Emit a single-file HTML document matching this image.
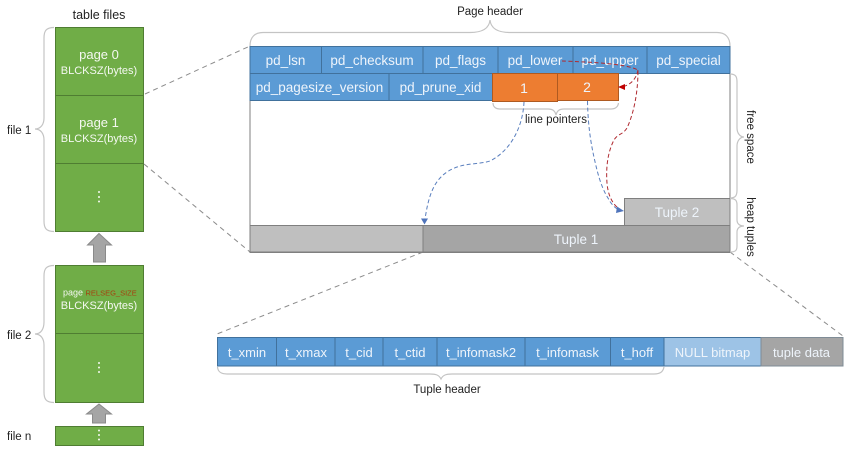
<!DOCTYPE html>
<html><head><meta charset="utf-8"><style>
html,body{margin:0;padding:0;background:#fff}
svg{display:block;font-family:"Liberation Sans",sans-serif;filter:blur(.3px)}
.w{fill:#f4f8f1;text-anchor:middle}
.b{fill:#eef4fb;text-anchor:middle;font-size:13.5px}
.t{fill:#eef4fb;text-anchor:middle;font-size:13px}
.k{fill:#222;font-size:11.5px;text-anchor:middle}
.br{fill:none;stroke:#c4c4c4;stroke-width:1.2}
.dg{fill:none;stroke:#8c8c8c;stroke-width:1;stroke-dasharray:5 4}
</style></head><body>
<svg width="844" height="453" viewBox="0 0 844 453" xmlns="http://www.w3.org/2000/svg">
<!-- left column -->
<text x="99" y="19" text-anchor="middle" font-size="12.5" fill="#222">table files</text>
<g fill="#70ad47" stroke="#4f7d32" stroke-width="1">
<rect x="55.5" y="27.5" width="88" height="68"/>
<rect x="55.5" y="95.5" width="88" height="68"/>
<rect x="55.5" y="163.5" width="88" height="68"/>
<rect x="55.5" y="265.5" width="88" height="68"/>
<rect x="55.5" y="333.5" width="88" height="69"/>
<rect x="55.5" y="426.5" width="88" height="19"/>
</g>
<text class="w" x="99" y="59" font-size="13">page 0</text>
<text class="w" x="99" y="74" font-size="11">BLCKSZ(bytes)</text>
<text class="w" x="99" y="127" font-size="13">page 1</text>
<text class="w" x="99" y="142" font-size="11">BLCKSZ(bytes)</text>
<g fill="#f4f8f1">
<circle cx="99" cy="192" r="1"/><circle cx="99" cy="197" r="1"/><circle cx="99" cy="201.5" r="1"/>
<circle cx="99" cy="363" r="1"/><circle cx="99" cy="367.5" r="1"/><circle cx="99" cy="372" r="1"/>
<circle cx="99" cy="430.5" r="1"/><circle cx="99" cy="435" r="1"/><circle cx="99" cy="439.5" r="1"/>
</g>
<text x="63" y="295.5" font-size="9" fill="#f4f8f1">page</text>
<text x="85.5" y="295.5" font-size="7.5" fill="#a5400f">RELSEG_SIZE</text>
<text class="w" x="99" y="309" font-size="11">BLCKSZ(bytes)</text>
<g fill="#a5a5a5" stroke="#8a8a8a" stroke-width="1">
<path d="M99 233.5 L111.5 245 L105.5 245 L105.5 262 L93.5 262 L93.5 245 L87.5 245 Z"/>
<path d="M99 404 L111.5 414 L105.5 414 L105.5 423 L92.5 423 L92.5 414 L86.5 414 Z"/>
</g>
<path class="br" d="M54 27.5 C46 27.5 44 31 44 38 L44 118 C44 124 41 129 35 129 C41 129 44 134 44 140 L44 221 C44 228 46 231.5 54 231.5"/>
<path class="br" d="M54 265.5 C46 265.5 44 269 44 276 L44 322 C44 329 41 334 35 334 C41 334 44 339 44 345 L44 392 C44 399 46 402.5 54 402.5"/>
<g fill="#222" font-size="11.5">
<text x="7" y="134">file 1</text>
<text x="7" y="339">file 2</text>
<text x="7" y="440">file n</text>
</g>
<!-- dashed guides -->
<path class="dg" d="M145 94 L250 46"/>
<path class="dg" d="M144 164 L250 252"/>
<path class="dg" d="M423 252 L217 334"/>
<path class="dg" d="M730 252 L843 336"/>
<!-- page frame -->
<rect x="250" y="46.5" width="480" height="206" fill="#fff" stroke="#7f7f7f" stroke-width="1"/>
<g fill="#5b9bd5" stroke="#41719c" stroke-width="1">
<rect x="250" y="46.5" width="71.5" height="27"/>
<rect x="321.5" y="46.5" width="101.5" height="27"/>
<rect x="423" y="46.5" width="75" height="27"/>
<rect x="498" y="46.5" width="75" height="27"/>
<rect x="573" y="46.5" width="74" height="27"/>
<rect x="647" y="46.5" width="83" height="27"/>
<rect x="250" y="73.5" width="139" height="27"/>
<rect x="389" y="73.5" width="103.5" height="27"/>
</g>
<g fill="#ed7d31" stroke="#ae5a21" stroke-width="1">
<rect x="492.5" y="73.5" width="65" height="28"/>
<rect x="557.5" y="73.5" width="61" height="27"/>
</g>
<text class="b" x="285.5" y="65">pd_lsn</text>
<text class="b" x="372" y="65">pd_checksum</text>
<text class="b" x="460.5" y="65">pd_flags</text>
<text class="b" x="535" y="65">pd_lower</text>
<text class="b" x="610" y="65">pd_upper</text>
<text class="b" x="688.5" y="65">pd_special</text>
<text class="b" x="319.5" y="92">pd_pagesize_version</text>
<text class="b" x="440.5" y="92">pd_prune_xid</text>
<text class="b" x="524" y="93" style="font-size:14px">1</text>
<text class="b" x="587" y="92" style="font-size:14px">2</text>
<!-- tuples -->
<rect x="250" y="225.5" width="173" height="26.5" fill="#bfbfbf" stroke="#7f7f7f"/>
<rect x="423" y="225.5" width="307" height="26.5" fill="#a5a5a5" stroke="#7f7f7f"/>
<rect x="624.5" y="198.5" width="105.5" height="27" fill="#bfbfbf" stroke="#7f7f7f"/>
<text class="b" x="576" y="244">Tuple 1</text>
<text class="b" x="677" y="217">Tuple 2</text>
<!-- braces -->
<path class="br" d="M250 46 C250 37 255 32.5 263 32.5 L470 32.5 C480 32.5 489 30 490 20 C491 30 500 32.5 510 32.5 L717 32.5 C725 32.5 730 37 730 46"/>
<text class="k" x="490" y="15">Page header</text>
<path class="br" d="M493 103 C493 107 496 109 500 109 L548 109 C553 109 555 111 556 115 C557 111 559 109 564 109 L611 109 C615 109 618 107 618.5 103"/>
<text class="k" x="556" y="123">line pointers</text>
<path class="br" d="M730 74 C736 74 737 77 737 82 L737 128 C737 133 740 137 744 137 C740 137 737 141 737 146 L737 190 C737 195 736 198 730 198"/>
<text class="k" transform="translate(751 137) rotate(90)" x="0" y="4">free space</text>
<path class="br" d="M730 198.5 C736 198.5 737 201 737 205 L737 220 C737 224 740 226 744 226 C740 226 737 228 737 232 L737 246 C737 250 736 252 730 252"/>
<text class="k" transform="translate(751 227) rotate(90)" x="0" y="4">heap tuples</text>
<path class="br" d="M217.5 367 C218 372 221 374 227 374 L430 374 C436 374 439 375 441 379 C443 375 446 374 452 374 L654 374 C660 374 663 372 664 367"/>
<text class="k" x="447" y="393">Tuple header</text>
<!-- tuple row -->
<g fill="#5b9bd5" stroke="#41719c" stroke-width="1">
<rect x="217.5" y="337.5" width="59" height="28.5"/>
<rect x="276.5" y="337.5" width="58.5" height="28.5"/>
<rect x="335" y="337.5" width="48" height="28.5"/>
<rect x="383" y="337.5" width="54" height="28.5"/>
<rect x="437" y="337.5" width="88" height="28.5"/>
<rect x="525" y="337.5" width="85.5" height="28.5"/>
<rect x="610.5" y="337.5" width="53.5" height="28.5"/>
<rect x="664" y="337.5" width="97" height="28.5" fill="#9dc3e6"/>
<rect x="761" y="337.5" width="82" height="28.5" fill="#a5a5a5" stroke="#7f8c96"/>
</g>
<text class="t" x="247" y="357">t_xmin</text>
<text class="t" x="306" y="357">t_xmax</text>
<text class="t" x="359" y="357">t_cid</text>
<text class="t" x="410" y="357">t_ctid</text>
<text class="t" x="481" y="357">t_infomask2</text>
<text class="t" x="567.5" y="357">t_infomask</text>
<text class="t" x="637" y="357">t_hoff</text>
<text class="t" x="712.5" y="357">NULL bitmap</text>
<text class="t" x="801.5" y="357">tuple data</text>
<!-- connectors -->
<g fill="none" stroke-width="1" stroke-dasharray="4 2.5">
<path stroke="#5a7fbe" d="M524 102 C523 125 512 150 490 161 C478 165 462 162 447 172 C432 182 428 200 425 219"/>
<path stroke="#5a7fbe" d="M587.5 101 C588 130 592 150 597 170 C600 182 604 192 608 198 C611 204 615 208 619 210"/>
<path stroke="#b02a30" d="M562 61 C585 62 625 63 638 70 C638 95 633 115 627 128 C622 136 617 133 613 142 C607 155 606 170 607 183 C608 195 612 203 618 208"/>
<path stroke="#b02a30" d="M638 70 C636 80 630 85 622 87"/>
</g>
<path d="M618 87 L625 84 L625 90 Z" fill="#c00000"/>
<path d="M424.5 224.500 L421 218.500 L428 218.500 Z" fill="#4f74bb"/>
<path d="M624 211 L617 206.500 L616 213 Z" fill="#4f74bb"/>
</svg>
</body></html>
